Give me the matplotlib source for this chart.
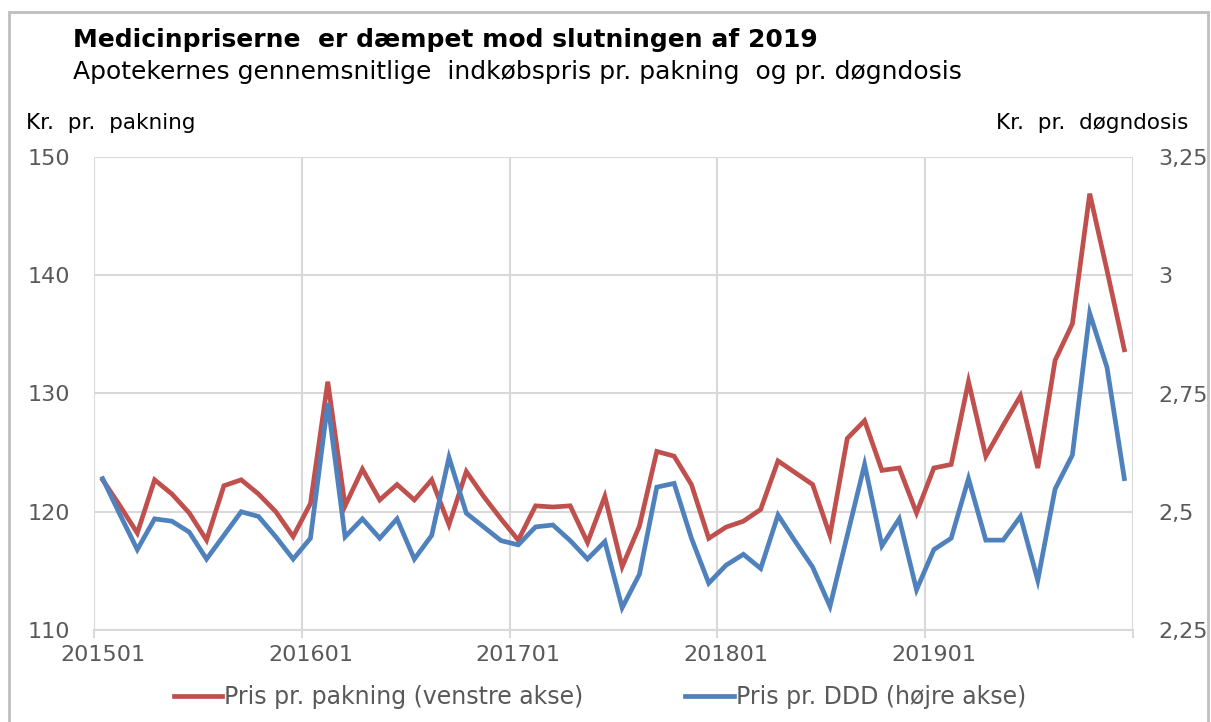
import matplotlib.pyplot as plt
from matplotlib.patches import Rectangle
from matplotlib.lines import Line2D
import numpy as np

# monthly data 201501 - 201912
pris_pakning = [122.7, 120.5, 118.2, 122.7, 121.5, 119.9, 117.6, 122.2, 122.7, 121.5,
                120.0, 117.9, 120.7, 131.0, 120.5, 123.6, 121.0, 122.3, 121.0, 122.7,
                118.9, 123.4, 121.3, 119.4, 117.6, 120.5, 120.4, 120.5, 117.4, 121.3,
                115.35, 118.8, 125.1, 124.7, 122.3, 117.75, 118.7, 119.2, 120.2, 124.3,
                123.3, 122.3, 118.0, 126.2, 127.7, 123.5, 123.7, 119.9, 123.7, 124.0,
                131.0, 124.7, 127.3, 129.8, 123.7, 132.8, 135.9, 146.9, 140.4, 133.7]
pris_ddd = [2.57, 2.494, 2.42, 2.485, 2.48, 2.457, 2.40, 2.45, 2.50, 2.49,
            2.447, 2.40, 2.444, 2.73, 2.447, 2.485, 2.444, 2.485, 2.40, 2.45,
            2.615, 2.497, 2.468, 2.439, 2.43, 2.468, 2.472, 2.439, 2.40, 2.437,
            2.297, 2.368, 2.552, 2.56, 2.444, 2.349, 2.387, 2.41, 2.38, 2.493,
            2.437, 2.383, 2.30, 2.45, 2.60, 2.428, 2.485, 2.335, 2.42, 2.444,
            2.57, 2.44, 2.44, 2.49, 2.355, 2.548, 2.62, 2.92, 2.805, 2.57]
aar_labels = ['201501', '201601', '201701', '201801', '201901']
venstre_ticks = [110, 120, 130, 140, 150]
hoejre_ticks = [2.25, 2.5, 2.75, 3.0, 3.25]
hoejre_labels = ['2,25', '2,5', '2,75', '3', '3,25']

red = '#C0504D'
blue = '#4F81BD'
grid_c = '#D9D9D9'
txt_c = '#595959'

fig = plt.figure(figsize=(12.11, 7.22), dpi=100)
ax = fig.add_axes([94/1211, 1-630/722, (1133-94)/1211, (630-157)/722])
ax2 = ax.twinx()

x = np.arange(len(pris_pakning))
ax.plot(x, pris_pakning, color=red, lw=3.4, solid_joinstyle='miter', zorder=3)
ax2.plot(x, pris_ddd, color=blue, lw=3.4, solid_joinstyle='miter', zorder=3)

ax.set_xlim(-0.5, len(x) - 0.5)
ax.set_ylim(110, 150)
ax2.set_ylim(2.25, 3.25)

# gridlines / tick marks at year boundaries, labels on the first month
bounds = np.arange(-0.5, len(x), 12)
ax.set_xticks(bounds)
ax.set_xticklabels([''] * len(bounds))
ax.set_xticks(x[::12], minor=True)
ax.set_xticklabels(aar_labels, minor=True)
ax.set_yticks(venstre_ticks)
ax.set_yticklabels([str(v) for v in venstre_ticks])
ax2.set_yticks(hoejre_ticks)
ax2.set_yticklabels(hoejre_labels)

ax.grid(True, which='major', color=grid_c, lw=1.5, zorder=0)
ax.set_axisbelow(True)
for a in (ax, ax2):
    for s in a.spines.values():
        s.set_visible(False)
ax.spines['bottom'].set_visible(True)
ax.spines['bottom'].set_color(grid_c)
ax.spines['bottom'].set_linewidth(1.5)

ax.tick_params(axis='x', which='major', colors=grid_c, length=6, width=1.5)
ax.tick_params(axis='x', which='minor', length=0, labelcolor=txt_c,
               labelsize=16, pad=11)
ax.tick_params(axis='y', length=0, labelcolor=txt_c, labelsize=16, pad=17.5)
ax2.tick_params(axis='y', length=0, labelcolor=txt_c, labelsize=16, pad=18)

fig.text(73/1211, 1-40/722, 'Medicinpriserne  er dæmpet mod slutningen af 2019',
         fontsize=18, fontweight='bold', color='black', va='center', ha='left')
fig.text(73/1211, 1-72/722, 'Apotekernes gennemsnitlige  indkøbspris pr. pakning  og pr. døgndosis',
         fontsize=18, color='black', va='center', ha='left')
fig.text(26/1211, 1-123/722, 'Kr.  pr.  pakning', fontsize=15.5, color='black',
         va='center', ha='left')
fig.text(1188/1211, 1-123/722, 'Kr.  pr.  døgndosis', fontsize=15.5, color='black',
         va='center', ha='right')

handles = [Line2D([], [], color=red, lw=3.4), Line2D([], [], color=blue, lw=3.4)]
fig.legend(handles, ['Pris pr. pakning (venstre akse)', 'Pris pr. DDD (højre akse)'],
           loc='center', bbox_to_anchor=(600/1211, 1-697/722), ncol=2, frameon=False,
           fontsize=17, labelcolor=txt_c, handlelength=2.05, handletextpad=0.1,
           columnspacing=4.3)

fig.patches.append(Rectangle((9/1211, -0.1), 1199/1211, 1.1 - 12/722,
                             transform=fig.transFigure, fill=False,
                             edgecolor='#BFBFBF', lw=2))

fig.savefig('out.png', dpi=100)
